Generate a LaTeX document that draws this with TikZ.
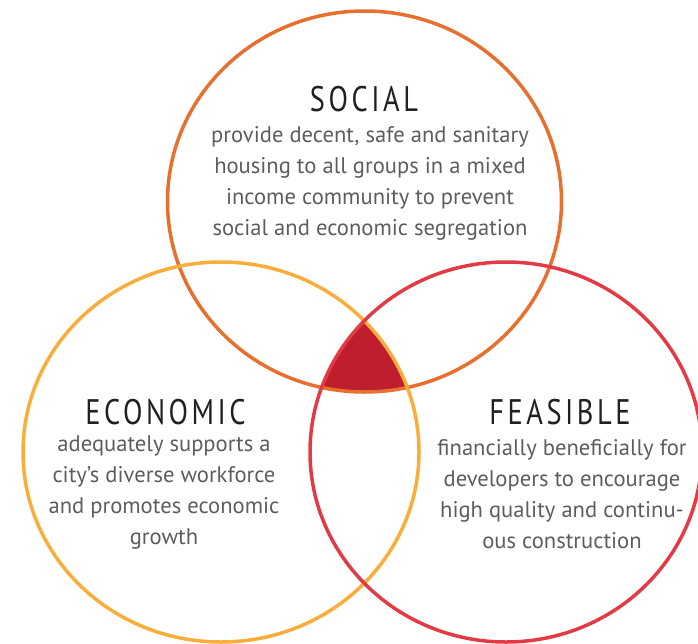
\documentclass[tikz,border=0pt]{standalone}
\usepackage{fontspec}
\newfontfamily\bodyfont{PT Sans}
\newfontfamily\headfont[FakeStretch=0.80,LetterSpace=10]{PT Sans}
\definecolor{socialc}{HTML}{E8702F}
\definecolor{econc}{HTML}{F9AD3B}
\definecolor{feasc}{HTML}{E33B45}
\definecolor{corec}{HTML}{BE1E2D}
\definecolor{bodyc}{HTML}{5C5D5F}
\definecolor{headc}{HTML}{231F20}
\tikzset{
  ring/.style={line width=3.5pt},
  headtxt/.style={inner sep=0pt, text=headc, font=\headfont\fontsize{35.5}{35.5}\selectfont},
  bodytxt/.style={inner sep=0pt, text=bodyc, align=center, font=\bodyfont\fontsize{22.6}{31}\selectfont}
}
\begin{document}
\begin{tikzpicture}[x=1pt,y=-1pt]
\useasboundingbox (0,0) rectangle (698,643);
\coordinate (cs) at (364.5,201.5);
\coordinate (ce) at (221,452);
\coordinate (cf) at (506,452);
% core intersection
\begin{scope}
  \clip (cs) ellipse [x radius=197, y radius=190.5];
  \clip (ce) ellipse [x radius=198, y radius=190];
  \fill[corec] (cf) ellipse [x radius=196, y radius=190];
\end{scope}
\draw[ring, socialc] (cs) ellipse [x radius=197, y radius=190.5];
\draw[ring, econc] (ce) ellipse [x radius=198, y radius=190];
\draw[ring, feasc] (cf) ellipse [x radius=196, y radius=190];
% texts
\node[headtxt] (hs) at (364,99.5) {SOCIAL};
\node[bodytxt] (bs) at (370,183.3) {provide decent, safe and sanitary\\housing to all groups in a mixed\\income community to prevent\\social and economic segregation};
\node[headtxt] (he) at (165.5,412.5) {ECONOMIC};
\node[bodytxt] (be) at (164,492.3) {adequately supports a\\city’s diverse workforce\\and promotes economic\\growth};
\node[headtxt] (hf) at (560,412.5) {FEASIBLE};
\node[bodytxt] (bf) at (562,494) {financially beneficially for\\developers to encourage\\high quality and continu-\\ous construction};
\end{tikzpicture}
\end{document}
